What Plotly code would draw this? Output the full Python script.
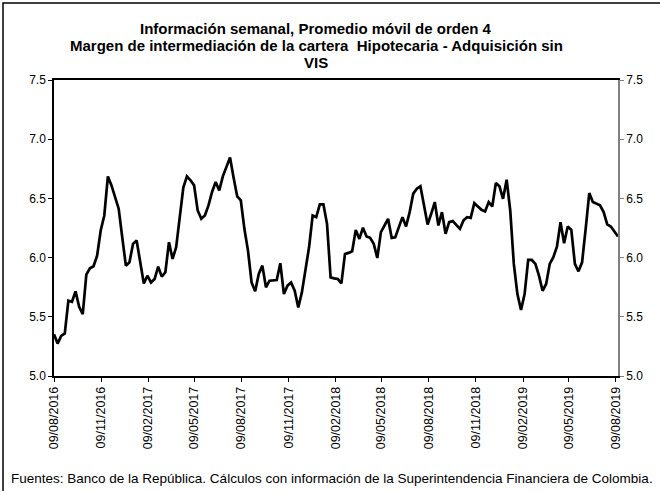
import plotly.graph_objects as go
import pandas as pd

start_date = "2016-08-09"
values = [
    5.353, 5.274, 5.339, 5.359, 5.636, 5.627, 5.715, 5.585, 5.523, 5.856,
    5.910, 5.927, 6.017, 6.229, 6.356, 6.686, 6.610, 6.511, 6.413, 6.172,
    5.932, 5.960, 6.116, 6.144, 5.980, 5.782, 5.847, 5.790, 5.819, 5.924,
    5.839, 5.876, 6.130, 5.989, 6.087, 6.342, 6.591, 6.686, 6.653, 6.610,
    6.398, 6.328, 6.356, 6.441, 6.554, 6.638, 6.568, 6.686, 6.771, 6.845,
    6.675, 6.517, 6.483, 6.243, 6.059, 5.790, 5.715, 5.862, 5.932, 5.749,
    5.805, 5.811, 5.811, 5.952, 5.692, 5.763, 5.790, 5.720, 5.579, 5.706,
    5.890, 6.087, 6.356, 6.342, 6.449, 6.449, 6.285, 5.833, 5.825, 5.819,
    5.782, 6.031, 6.040, 6.054, 6.234, 6.158, 6.252, 6.178, 6.167, 6.116,
    5.997, 6.215, 6.271, 6.328, 6.167, 6.172, 6.257, 6.342, 6.263, 6.384,
    6.540, 6.582, 6.602, 6.441, 6.280, 6.370, 6.469, 6.271, 6.384, 6.201,
    6.299, 6.308, 6.271, 6.243, 6.314, 6.342, 6.336, 6.460, 6.432, 6.404,
    6.390, 6.469, 6.432, 6.630, 6.602, 6.497, 6.658, 6.398, 5.947, 5.692,
    5.557, 5.692, 5.980, 5.980, 5.947, 5.847, 5.720, 5.777, 5.947, 6.003,
    6.093, 6.299, 6.121, 6.263, 6.234, 5.947, 5.884, 5.960, 6.243, 6.545,
    6.469, 6.455, 6.441, 6.384, 6.280, 6.263, 6.215, 6.178,
]
dates = pd.date_range(start_date, periods=len(values), freq="7D")

tick_dates = ["2016-08-09", "2016-11-09", "2017-02-09", "2017-05-09", "2017-08-09",
              "2017-11-09", "2018-02-09", "2018-05-09", "2018-08-09", "2018-11-09",
              "2019-02-09", "2019-05-09", "2019-08-09"]
tick_labels = ["09/08/2016", "09/11/2016", "09/02/2017", "09/05/2017", "09/08/2017",
               "09/11/2017", "09/02/2018", "09/05/2018", "09/08/2018", "09/11/2018",
               "09/02/2019", "09/05/2019", "09/08/2019"]
y_ticks = [5.0, 5.5, 6.0, 6.5, 7.0, 7.5]

title_lines = ["Información semanal, Promedio móvil de orden 4",
               "Margen de intermediación de la cartera\u00a0 Hipotecaria - Adquisición sin",
               "VIS"]
footnote = "Fuentes: Banco de la República. Cálculos con información de la Superintendencia Financiera de Colombia."

FONT = "Liberation Sans, Arial, sans-serif"
W, H = 660, 491
L, R, T, B = 54, 42, 80, 115
PW, PH = W - L - R, H - T - B


def px_x(x):
    return (x - L) / PW


def px_y(y):
    return (H - B - y) / PH


fig = go.Figure()
fig.add_trace(go.Scatter(x=dates, y=values, mode="lines",
                         line=dict(color="black", width=2.7), showlegend=False,
                         hoverinfo="skip"))
fig.add_trace(go.Scatter(x=[dates[0]], y=[values[0]], yaxis="y2", mode="lines",
                         line=dict(color="rgba(0,0,0,0)"), showlegend=False,
                         hoverinfo="skip"))

annotations = []
for i, line in enumerate(title_lines):
    annotations.append(dict(text=line, xref="paper", yref="paper",
                            x=px_x(316), y=px_y(29 + 16.5 * i),
                            xanchor="center", yanchor="middle", showarrow=False,
                            font=dict(family=FONT, size=15, color="black", weight="bold")))
annotations.append(dict(text=footnote, xref="paper", yref="paper",
                        x=px_x(9), y=px_y(478),
                        xanchor="left", yanchor="middle", showarrow=False,
                        font=dict(family=FONT, size=13.5, color="black")))

fig.update_layout(
    width=W, height=H,
    margin=dict(l=L, r=R, t=T, b=B),
    paper_bgcolor="white", plot_bgcolor="white",
    font=dict(family=FONT, size=12, color="black"),
    xaxis=dict(type="date", range=[dates[0], dates[-1]],
               tickmode="array", tickvals=tick_dates, ticktext=tick_labels,
               tickangle=-90, ticks="outside", ticklen=4, tickcolor="black",
               showline=True, linecolor="black", linewidth=1.5, mirror=True,
               showgrid=False, zeroline=False,
               tickfont=dict(family=FONT, size=12.5, color="black")),
    yaxis=dict(range=[5.0, 7.5], tickmode="array", tickvals=y_ticks,
               tickformat=".1f", ticks="outside", ticklen=4, tickcolor="black",
               showline=True, linecolor="black", linewidth=1.5,
               showgrid=False, zeroline=False,
               tickfont=dict(family=FONT, size=12, color="black")),
    yaxis2=dict(range=[5.0, 7.5], tickmode="array", tickvals=y_ticks,
                tickformat=".1f", ticks="outside", ticklen=4, tickcolor="#808080",
                overlaying="y", side="right",
                showline=True, linecolor="#808080", linewidth=1.5,
                showgrid=False, zeroline=False,
                tickfont=dict(family=FONT, size=12, color="black")),
    annotations=annotations,
    shapes=[dict(type="rect", xref="paper", yref="paper",
                 x0=px_x(3), x1=px_x(W + 10), y0=px_y(H + 10), y1=px_y(3),
                 line=dict(color="black", width=1.5), fillcolor="rgba(0,0,0,0)",
                 layer="below")],
)

fig.write_html("out.html", config={"displayModeBar": False},
               post_script="document.body.style.margin='0';document.body.style.overflow='hidden';")
